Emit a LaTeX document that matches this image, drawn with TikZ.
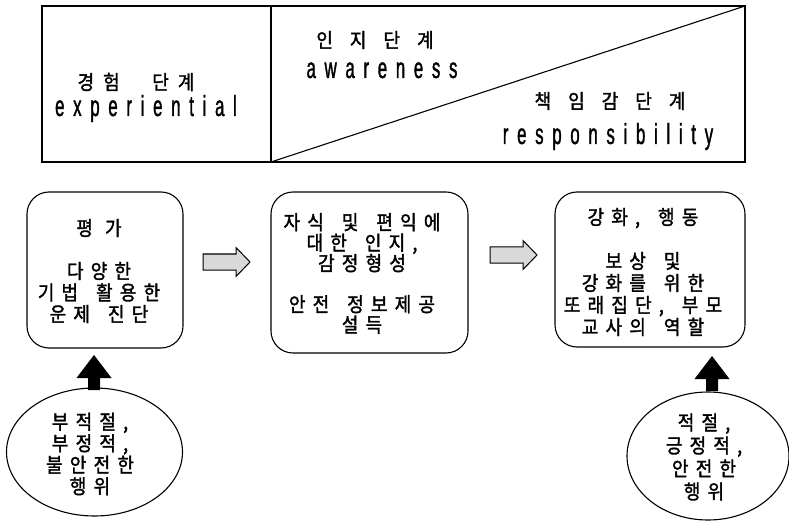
\documentclass[tikz,border=0pt]{standalone}
\usepackage{fontspec}
\usetikzlibrary{shapes.geometric}
\newfontfamily\krfont[FakeStretch=0.9,LetterSpace=36,FakeBold=1.6,WordSpace=1.6]{Noto Sans CJK KR}
\newfontfamily\krhead[FakeStretch=0.9,LetterSpace=85,FakeBold=1.6]{Noto Sans CJK KR}
\newfontfamily\krheadb[FakeStretch=0.9,LetterSpace=45,FakeBold=1.6,WordSpace=2.5]{Noto Sans CJK KR}
\newfontfamily\latfont[FakeStretch=0.58,LetterSpace=30,FakeBold=1.2]{Liberation Sans}
\tikzset{
  kr/.style={font=\krfont\fontsize{20}{21.5}\selectfont, align=center, inner sep=0pt},
  krh/.style={font=\krhead\fontsize{20}{20}\selectfont, inner sep=0pt},
  lat/.style={font=\latfont\fontsize{29}{30}\selectfont, inner sep=0pt, anchor=base},
  stagebox/.style={draw, rounded corners=22pt, line width=1.1pt, inner sep=0pt},
  oval/.style={draw, ellipse, line width=1.1pt, inner sep=0pt},
  blockarrow/.style={draw, line width=1pt, fill=gray!30},
  uparrow/.style={fill=black},
}
\begin{document}
\begin{tikzpicture}[x=1pt, y=-1pt]
\useasboundingbox (0,0) rectangle (789,521);
% top band
\coordinate (tl) at (42,6);
\coordinate (br) at (745,162);
\coordinate (dtop) at (271,6);
\coordinate (dbot) at (271,162);
\coordinate (tr) at (745,6);
\draw[line width=1.3pt] (tl) rectangle (br);
\draw[line width=1.3pt] (dtop) -- (dbot);
\draw[line width=1.1pt] (dbot) -- (tr);
\node[krh, font=\krheadb\fontsize{20}{20}\selectfont] (h1) at (136,82) {경험 단계};
\node[lat] (l1) at (146,116) {experiential};
\node[krh] (h2) at (375,40) {인지단계};
\node[lat] (l2) at (382,78) {awareness};
\node[krh] (h3) at (610,101) {책임감단계};
\node[lat] (l3) at (608,144) {responsibility};
% stage boxes
\node[stagebox, minimum width=156pt, minimum height=156pt] (b1) at (105,270) {};
\node[stagebox, minimum width=197pt, minimum height=161pt] (b2) at (369.5,272.5) {};
\node[stagebox, minimum width=190pt, minimum height=155pt] (b3) at (650,269.5) {};
\node[kr] (b1t) at (99,271) {평\hspace{12pt}가\\[21.5pt]다양한\\기법 활용한\\운제 진단};
\node[kr, font=\krfont\fontsize{20}{20.5}\selectfont] (b2t) at (362,273.5) {자식 및 편익에\\대한 인지,\\감정형성\\[20.5pt]안전 정보제공\\설득};
\node[kr, font=\krfont\fontsize{20}{22}\selectfont] (b3t) at (643,272) {강화, 행동\\[22pt]보상 및\\강화를 위한\\또래집단, 부모\\교사의 역할};
% block arrows
\coordinate (a1) at (203,262);
\coordinate (a2) at (490,255);
\foreach \a in {a1,a2}{
  \draw[blockarrow] (\a) ++(0,-8) -- ++(33,0) -- ++(0,-6.5) -- ++(14,14.5) -- ++(-14,14.5) -- ++(0,-6.5) -- ++(-33,0) -- cycle;
}
% ovals
\node[oval, minimum width=176pt, minimum height=128pt] (e1) at (94.5,452) {};
\node[oval, minimum width=162pt, minimum height=128pt] (e2) at (708,456) {};
\node[kr, font=\krfont\fontsize{20}{21.5}\selectfont] (e1t) at (90,454) {부적절,\\부정적,\\불안전한\\행위};
\node[kr, font=\krfont\fontsize{20}{23}\selectfont] (e2t) at (704,457) {적절,\\긍정적,\\안전한\\행위};
% up arrows
\coordinate (u1) at (94,390);
\coordinate (u2) at (712,391);
\foreach \u in {u1,u2}{
  \fill[uparrow] (\u) ++(-6,0) -- ++(0,-12) -- ++(-11.5,0) -- ++(17.5,-23) -- ++(17.5,23) -- ++(-11.5,0) -- ++(0,12) -- cycle;
}
\end{tikzpicture}
\end{document}
